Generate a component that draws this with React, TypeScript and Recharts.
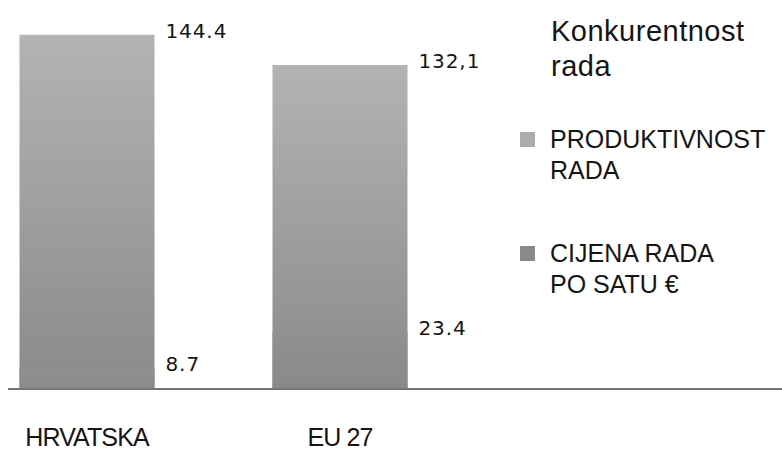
import { BarChart, Bar, XAxis, YAxis, LabelList } from "recharts";

const categories = ["HRVATSKA", "EU 27"];
const productivity = [144.4, 132.1];
const hourlyCost = [8.7, 23.4];
const productivityLabels = ["144.4", "132,1"];
const costLabels = ["8.7", "23.4"];
const seriesNames = ["PRODUKTIVNOST\nRADA", "CIJENA RADA\nPO SATU €"];
const legendTitle = "Konkurentnost rada";

const LIGHT = "#acacac";
const DARK = "#898989";
const TEXT = "#151515";

const data = categories.map((name, i) => ({
  name,
  productivity: productivity[i],
  cost: hourlyCost[i],
  productivityLabel: productivityLabels[i],
  costLabel: costLabels[i],
}));

const ValueLabel = (props: any) => {
  const { x, y, width, value } = props;
  return (
    <text
      x={x + width + 11}
      y={y - 4}
      dominantBaseline="central"
      fontFamily="DejaVu Sans"
      fontSize={20}
      letterSpacing={0.9}
      fill={TEXT}
    >
      {value}
    </text>
  );
};

// legend drawn beside the chart, same colours as the bars
const LegendBox = () => {
  const colors = [LIGHT, DARK];
  const tops = [124, 238];
  return (
    <div
      style={{
        position: "absolute",
        left: 500,
        top: 0,
        width: 282,
        height: 320,
        fontFamily: "Liberation Sans",
        color: TEXT,
      }}
    >
      <div
        style={{
          position: "absolute",
          left: 51,
          top: 14,
          fontSize: 29,
          lineHeight: "35px",
          letterSpacing: 0.5,
          width: 225,
        }}
      >
        {legendTitle}
      </div>
      {seriesNames.map((n, i) => (
        <div key={n} style={{ position: "absolute", left: 0, top: tops[i], width: 282 }}>
          <div
            style={{
              position: "absolute",
              left: 20,
              top: 8,
              width: 15,
              height: 15,
              background: colors[i],
            }}
          />
          <div
            style={{
              position: "absolute",
              left: 50,
              top: 0,
              fontSize: 25,
              lineHeight: "31px",
              letterSpacing: 0,
              whiteSpace: "pre-line",
            }}
          >
            {n}
          </div>
        </div>
      ))}
    </div>
  );
};

export default function App() {
  return (
    <div style={{ position: "absolute", left: 0, top: 0, width: 782, height: 450, background: "#fff" }}>
      <BarChart
        width={782}
        height={450}
        data={data}
        margin={{ top: 21, right: 0, bottom: 0, left: 8 }}
        barGap={-135}
      >
        <defs>
          <linearGradient id="prodGrad" x1="0" y1="0" x2="0" y2="1">
            <stop offset="0%" stopColor="#b3b3b3" />
            <stop offset="100%" stopColor="#8a8a8a" />
          </linearGradient>
          <linearGradient id="costGrad" x1="0" y1="0" x2="0" y2="1">
            <stop offset="0%" stopColor="#919191" />
            <stop offset="100%" stopColor="#898989" />
          </linearGradient>
        </defs>
        <XAxis
          dataKey="name"
          height={61}
          padding={{ left: -47.5, right: 315.5 }}
          tickLine={false}
          tickSize={0}
          tickMargin={39}
          axisLine={{ stroke: "#757575", strokeWidth: 2 }}
          tick={{ fontFamily: "Liberation Sans", fontSize: 25, letterSpacing: -0.9, fill: TEXT }}
        />
        <YAxis hide domain={[0, 150]} />
        <Bar
          dataKey="productivity"
          name={seriesNames[0]}
          fill="url(#prodGrad)"
          barSize={135}
          isAnimationActive={false}
        >
          <LabelList dataKey="productivityLabel" content={ValueLabel} />
        </Bar>
        <Bar dataKey="cost" name={seriesNames[1]} fill="url(#costGrad)" barSize={135} isAnimationActive={false}>
          <LabelList dataKey="costLabel" content={ValueLabel} />
        </Bar>
      </BarChart>
      <LegendBox />
    </div>
  );
}
